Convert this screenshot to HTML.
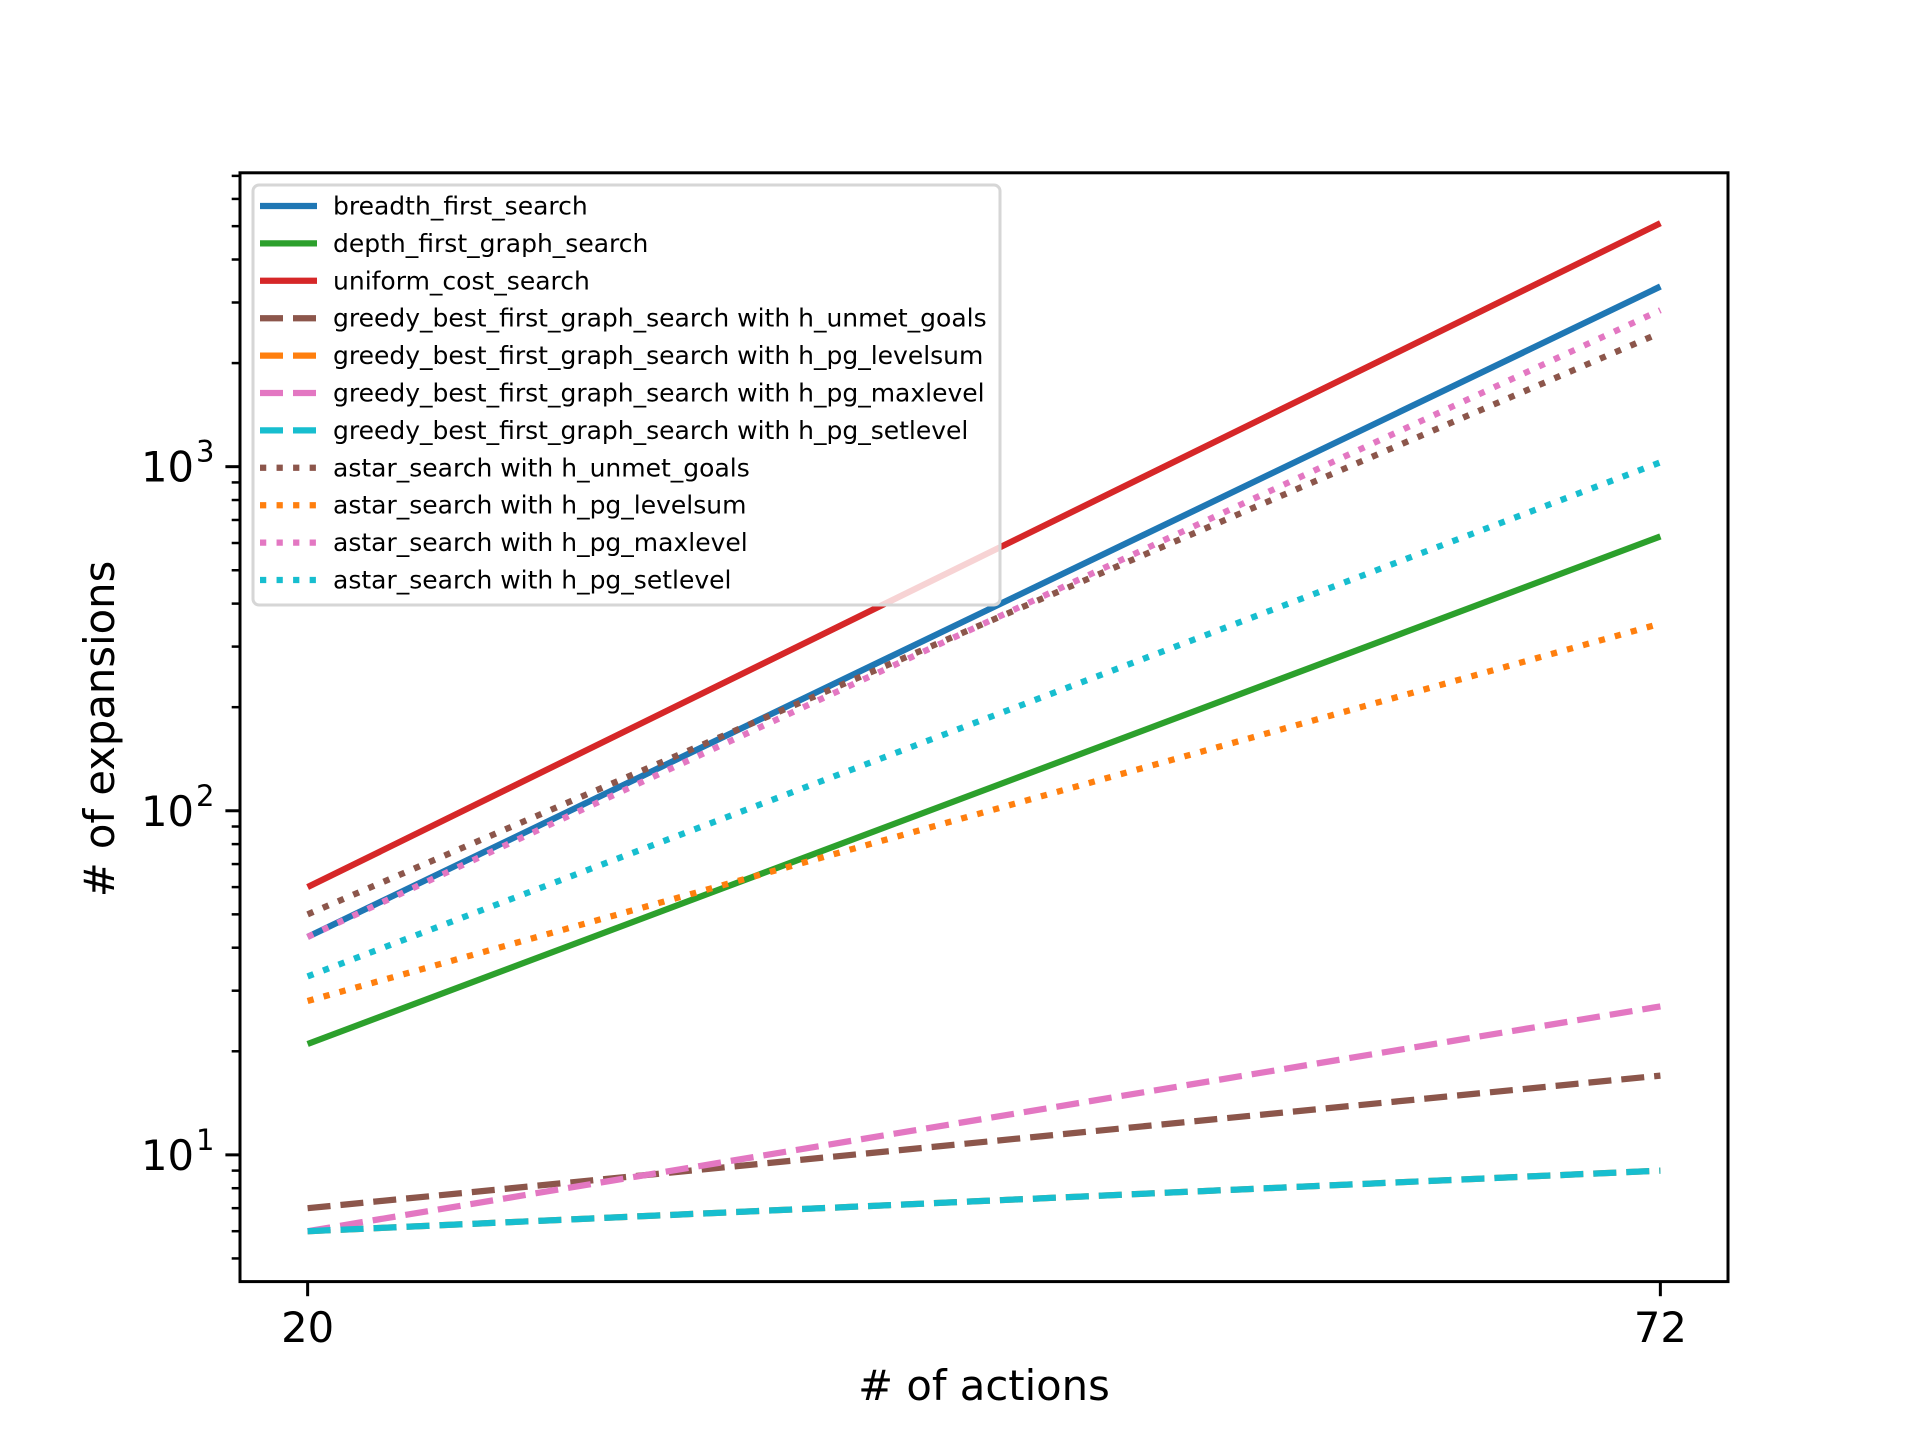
<!DOCTYPE html>
<html><head><meta charset="utf-8"><style>
html,body{margin:0;padding:0;background:#fff;}
svg{display:block;font-family:"DejaVu Sans","Liberation Sans",sans-serif;}
</style></head><body>
<svg id="chart" width="1920" height="1440" viewBox="0 0 1920 1440" xmlns="http://www.w3.org/2000/svg">
<rect x="0" y="0" width="1920" height="1440" fill="#fff"/>
<g id="plot"></g>
</svg>
<script>
const xValues = [20, 72];
const xTickLabels = ['20', '72'];
const seriesNames = [
 'breadth_first_search','depth_first_graph_search','uniform_cost_search',
 'greedy_best_first_graph_search with h_unmet_goals','greedy_best_first_graph_search with h_pg_levelsum',
 'greedy_best_first_graph_search with h_pg_maxlevel','greedy_best_first_graph_search with h_pg_setlevel',
 'astar_search with h_unmet_goals','astar_search with h_pg_levelsum','astar_search with h_pg_maxlevel','astar_search with h_pg_setlevel'];
const bfsValues = [43, 3340];
const dfsValues = [21, 627];
const ucsValues = [60, 5100];
const gbfsUnmetValues = [7, 17];
const gbfsLevelsumValues = [6, 9];
const gbfsMaxlevelValues = [6, 27];
const gbfsSetlevelValues = [6, 9];
const astarUnmetValues = [50, 2450];
const astarLevelsumValues = [28, 350];
const astarMaxlevelValues = [43, 2850];
const astarSetlevelValues = [33, 1030];
const yTickExponents = [1, 2, 3];

const allSeries = [bfsValues,dfsValues,ucsValues,gbfsUnmetValues,gbfsLevelsumValues,gbfsMaxlevelValues,gbfsSetlevelValues,astarUnmetValues,astarLevelsumValues,astarMaxlevelValues,astarSetlevelValues];
const colors = ['#1f77b4','#2ca02c','#d62728','#8c564b','#ff7f0e','#e377c2','#17becf','#8c564b','#ff7f0e','#e377c2','#17becf'];
const styles = ['solid','solid','solid','dash','dash','dash','dash','dot','dot','dot','dot'];
const dashArr = {solid:'', dash:'23 10', dot:'6.25 10.3'};

const L=240,R=1728,T=172.8,B=1281.6;
const xmin=Math.min(...xValues), xmax=Math.max(...xValues), xp=(xmax-xmin)*0.05;
const x0=xmin-xp, x1=xmax+xp;
let lmin=Infinity,lmax=-Infinity;
allSeries.forEach(s=>s.forEach(v=>{const l=Math.log10(v);lmin=Math.min(lmin,l);lmax=Math.max(lmax,l);}));
const yp=(lmax-lmin)*0.05, y0=lmin-yp, y1=lmax+yp;
const sx=v=>L+(v-x0)/(x1-x0)*(R-L);
const sy=v=>B-(Math.log10(v)-y0)/(y1-y0)*(B-T);
const NS='http://www.w3.org/2000/svg';
const g=document.getElementById('plot');
function mk(tag,attrs,parent){const e=document.createElementNS(NS,tag);for(const k in attrs)e.setAttribute(k,attrs[k]);(parent||g).appendChild(e);return e;}

const lines=mk('g',{});


allSeries.forEach((s,i)=>{
  const pts=s.map((v,j)=>sx(xValues[j]).toFixed(1)+','+sy(v).toFixed(1)).join(' ');
  const p=mk('polyline',{points:pts,fill:'none',stroke:colors[i],'stroke-width':6.25,'stroke-dasharray':dashArr[styles[i]]},lines);
  
  
});
const frame=mk('rect',{x:L,y:T,width:R-L,height:B-T,fill:'none',stroke:'#000','stroke-width':3});


xValues.forEach((v,i)=>{
  mk('line',{x1:sx(v),x2:sx(v),y1:B,y2:B+14.6,stroke:'#000','stroke-width':3});
  const t=mk('text',{x:sx(v),y:1342,'text-anchor':'middle','font-size':41.7,fill:'#000'});
  t.textContent=xTickLabels[i];
  
  
});
for(let e=0;e<=4;e++){
  for(let m=1;m<10;m++){
    const v=m*Math.pow(10,e); const l=Math.log10(v);
    if(l<y0||l>y1) continue;
    const y=sy(v);
    mk('line',{x1:L,x2:L-(m===1?14.6:8.3),y1:y,y2:y,stroke:'#000','stroke-width':m===1?3:2.5});
  }
}
yTickExponents.forEach(e=>{
  const y=sy(Math.pow(10,e));
  const t=mk('text',{x:194,y:y+15,'text-anchor':'end','font-size':41.7,fill:'#000'});
  t.textContent='10';
  
  
  const s=mk('text',{x:196,y:y-5,'text-anchor':'start','font-size':29,fill:'#000'});
  s.textContent=String(e);
  
  
});
const xt=mk('text',{x:(L+R)/2,y:1400,'text-anchor':'middle','font-size':41.7,fill:'#000'});
xt.textContent='# of actions';


const yt=mk('text',{x:0,y:0,'text-anchor':'middle','font-size':41.7,fill:'#000',transform:'translate(114,729) rotate(-90)'});
yt.textContent='# of expansions';


const lg=mk('g',{});


mk('rect',{x:253,y:185,width:747,height:420,rx:6,fill:'#fff','fill-opacity':0.8,stroke:'#d6d6d6','stroke-width':3},lg);
seriesNames.forEach((n,i)=>{
  const y=206+i*37.4;
  const ent=mk('g',{},lg);
  
  
  mk('line',{x1:260,x2:317,y1:y,y2:y,stroke:colors[i],'stroke-width':6.25,'stroke-dasharray':dashArr[styles[i]]},ent);
  const t=mk('text',{x:333,y:y+8.5,'font-size':25,fill:'#000'},ent);
  t.textContent=n;
});
</script>
</body></html>
